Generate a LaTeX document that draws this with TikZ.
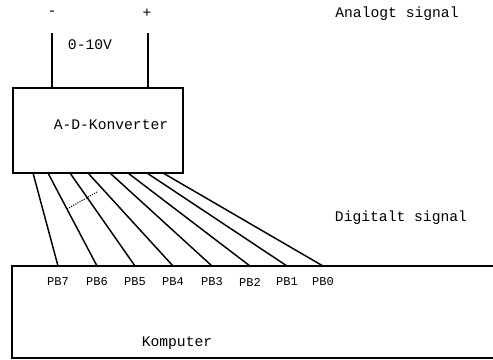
\documentclass[tikz,border=0pt]{standalone}
\usepackage{fontspec}
\setmonofont{Liberation Mono}
\begin{document}
\begin{tikzpicture}[x=0.75pt,y=-0.75pt,line width=1.1pt,
    lbl/.style={font=\ttfamily\fontsize{11}{13}\selectfont, inner sep=0pt},
    pin/.style={font=\ttfamily\fontsize{9}{11}\selectfont, inner sep=0pt}]
    \useasboundingbox (0,0) rectangle (493,360);

    % Analog input
    \node[lbl] (minus) at (52,13) {-};
    \node[lbl] (plus) at (147,13) {+};
    \node[lbl] (range) at (90,45) {0-10V};
    \node[lbl] (analog) at (397,14) {Analogt signal};
    \coordinate (inm) at (52,33);
    \coordinate (inp) at (148,33);

    % A-D converter
    \node[draw, minimum width=127.5pt, minimum height=63.75pt, inner sep=0pt] (adc) at (98,130.5) {};
    \node[lbl] (adclabel) at (111,125) {A-D-Konverter};
    \draw (inm) -- (inm |- adc.north);
    \draw (inp) -- (inp |- adc.north);

    % Computer
    \draw (493,266) -- (12,266) -- (12,358) -- (493,358);
    \node[lbl] (komp) at (177,343) {Komputer};
    \node[lbl] (digital) at (401,218) {Digitalt signal};

    % Data lines PB7..PB0
    \foreach \t/\b [count=\i from 0] in {33/58, 48/97, 70/135, 88/173, 110/212, 128/250, 147/287, 163/323} {
        \pgfmathtruncatemacro{\n}{7-\i}
        \coordinate (top\n) at (\t,173);
        \coordinate (bot\n) at (\b,266);
        \node[pin] (pb\n) at (\b,282) {PB\n};
        \draw (top\n) -- (bot\n);
    }
    \draw[densely dotted, line width=0.8pt] (67,209) -- (97,192);
\end{tikzpicture}
\end{document}
